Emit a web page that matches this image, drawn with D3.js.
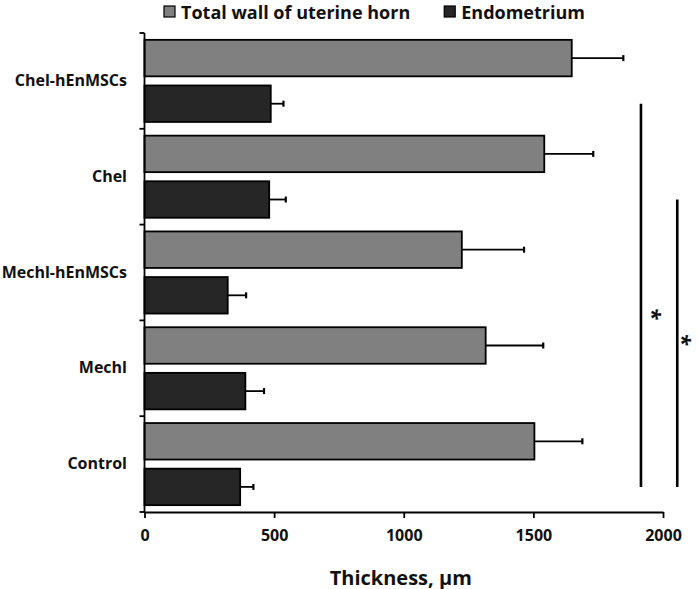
<!DOCTYPE html>
<html lang="en">
<head>
    <meta charset="UTF-8">
    <title>Uterine horn thickness</title>
    <style>
        body {
            margin: 0;
            background-color: white;
            font-family: "Open Sans", Arial, sans-serif;
        }
        text {
            fill: #111;
            font-weight: bold;
        }
    </style>
    <script src="https://d3js.org/d3.v7.min.js"></script>
</head>
<body>
    <div id="chart"></div>
    <script>
        // Data (µm)
        const groups = ["Chel-hEnMSCs", "Chel", "Mechl-hEnMSCs", "Mechl", "Control"];
        const seriesNames = ["Total wall of uterine horn", "Endometrium"];
        const totalWall = [1648, 1542, 1224, 1316, 1504];
        const totalWallErr = [199, 189, 240, 222, 185];
        const endometrium = [487, 481, 321, 389, 369];
        const endometriumErr = [49, 64, 71, 72, 51];
        const xTicks = [0, 500, 1000, 1500, 2000];

        // significance brackets between endometrium bars
        const sigFrom = ["Chel-hEnMSCs", "Chel"];
        const sigTo = ["Control", "Control"];
        const sigX = [1915, 2055];
        const sigStarAt = [0.55, 0.49];

        const width = 699;
        const height = 589;
        const colors = ["#808080", "#262626"];

        const svg = d3.select('#chart').append('svg')
            .attr('width', width)
            .attr('height', height);

        const x = d3.scaleLinear()
            .domain([0, 2000])
            .range([144.5, 663]);

        const y = d3.scaleBand()
            .domain(groups)
            .range([33, 512]);

        const inner = d3.scaleBand()
            .domain(seriesNames)
            .range([0, y.bandwidth()])
            .paddingInner(0.2)
            .paddingOuter(0.15);

        const rows = [];
        groups.forEach((g, i) => {
            rows.push({ group: g, series: seriesNames[0], value: totalWall[i], err: totalWallErr[i], color: colors[0] });
            rows.push({ group: g, series: seriesNames[1], value: endometrium[i], err: endometriumErr[i], color: colors[1] });
        });

        const barY = d => y(d.group) + inner(d.series);
        const barMid = d => barY(d) + inner.bandwidth() / 2;

        // bars
        svg.append('g')
            .selectAll('rect')
            .data(rows)
            .enter().append('rect')
            .attr('x', x(0))
            .attr('y', barY)
            .attr('width', d => x(d.value) - x(0))
            .attr('height', inner.bandwidth())
            .attr('fill', d => d.color)
            .attr('stroke', '#000')
            .attr('stroke-width', 1.8);

        // error bars (positive side only)
        const err = svg.append('g')
            .attr('stroke', '#000')
            .attr('stroke-width', 1.8);

        err.selectAll('line.whisker')
            .data(rows)
            .enter().append('line')
            .attr('class', 'whisker')
            .attr('x1', d => x(d.value))
            .attr('x2', d => x(d.value + d.err))
            .attr('y1', barMid)
            .attr('y2', barMid);

        err.selectAll('line.cap')
            .data(rows)
            .enter().append('line')
            .attr('class', 'cap')
            .attr('stroke-width', 2.2)
            .attr('x1', d => x(d.value + d.err))
            .attr('x2', d => x(d.value + d.err))
            .attr('y1', d => barMid(d) - 3)
            .attr('y2', d => barMid(d) + 3);

        // x axis
        const xAxis = svg.append('g')
            .attr('transform', `translate(0,${y.range()[1]})`)
            .call(d3.axisBottom(x)
                .tickValues(xTicks)
                .tickFormat(d3.format('d'))
                .tickSize(6)
                .tickPadding(12)
                .tickSizeOuter(0));

        xAxis.select('.domain').attr('stroke-width', 1.8);
        xAxis.selectAll('.tick line').attr('stroke-width', 1.8);
        xAxis.selectAll('.tick text')
            .style('font-family', '"Open Sans", Arial, sans-serif')
            .style('font-size', '16px')
            .style('font-weight', 'bold')
            .attr('fill', '#111');

        // y axis: line plus ticks at group boundaries
        const yAxis = svg.append('g')
            .attr('stroke', '#000')
            .attr('stroke-width', 1.8);

        yAxis.append('line')
            .attr('x1', x(0)).attr('x2', x(0))
            .attr('y1', y.range()[0]).attr('y2', y.range()[1]);

        const bounds = groups.map(g => y(g)).concat([y.range()[1]]);
        yAxis.selectAll('line.tick')
            .data(bounds)
            .enter().append('line')
            .attr('class', 'tick')
            .attr('x1', x(0) - 5).attr('x2', x(0))
            .attr('y1', d => d).attr('y2', d => d);

        svg.append('g')
            .selectAll('text')
            .data(groups)
            .enter().append('text')
            .attr('x', 127)
            .attr('y', d => y(d) + y.bandwidth() / 2 - 1)
            .attr('text-anchor', 'end')
            .attr('dominant-baseline', 'central')
            .style('font-size', '16px')
            .text(d => d);

        // axis title
        svg.append('text')
            .attr('x', (x.range()[0] + x.range()[1]) / 2 - 3)
            .attr('y', 577)
            .attr('text-anchor', 'middle')
            .attr('dominant-baseline', 'central')
            .style('font-size', '20px')
            .text('Thickness, µm');

        // legend
        const legend = svg.append('g').attr('transform', 'translate(164,6)');
        let lx = 0;
        seriesNames.forEach((name, i) => {
            const item = legend.append('g').attr('transform', `translate(${lx},0)`);
            item.append('rect')
                .attr('width', 11)
                .attr('height', 11)
                .attr('fill', colors[i])
                .attr('stroke', '#000')
                .attr('stroke-width', 1.2);
            const t = item.append('text')
                .attr('x', 17)
                .attr('y', 5.5)
                .attr('dominant-baseline', 'central')
                .style('font-size', '18px')
                .text(name);
            lx += 17 + t.node().getComputedTextLength() + 34;
        });

        // significance lines with rotated asterisks
        const endoMid = g => y(g) + inner(seriesNames[1]) + inner.bandwidth() / 2;
        sigX.forEach((sx, i) => {
            const y1 = endoMid(sigFrom[i]);
            const y2 = endoMid(sigTo[i]);
            svg.append('line')
                .attr('x1', x(sx)).attr('x2', x(sx))
                .attr('y1', y1).attr('y2', y2)
                .attr('stroke', '#000')
                .attr('stroke-width', 2.6);
            const sy = y1 + (y2 - y1) * sigStarAt[i];
            // keep the rotated glyph box inside the picture
            const starX = Math.min(x(sx) + 16, width - 12);
            svg.append('text')
                .attr('transform', `translate(${starX},${sy}) rotate(90)`)
                .attr('text-anchor', 'middle')
                .attr('dy', '0.55em')
                .style('font-size', '22px')
                .text('*');
        });
    </script>
</body>
</html>
